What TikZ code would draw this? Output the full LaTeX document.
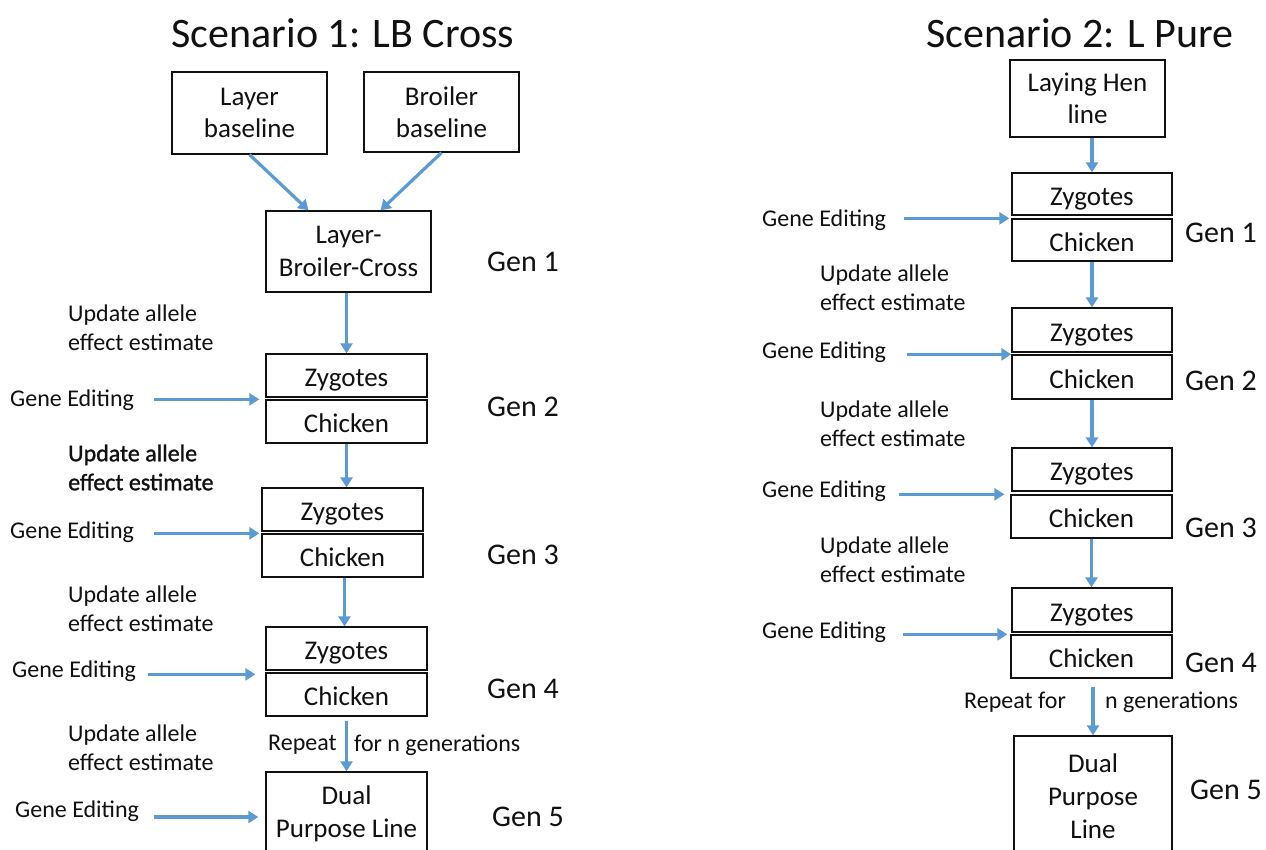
\documentclass[tikz,border=0pt]{standalone}
\usepackage{fontspec}
\setmainfont{Carlito}
\newfontfamily\heavyfont[FakeBold=1.2]{Carlito}
\usetikzlibrary{arrows.meta}
\definecolor{arrblue}{HTML}{5B9BD5}
\definecolor{ink}{HTML}{111111}
\tikzset{
  box/.style={draw=ink, line width=1.3pt, inner sep=0pt, align=center, text=ink,
    font=\fontsize{27}{32.5}\selectfont},
  cell/.style={box, minimum width=161pt, minimum height=43pt, text height=24pt, text depth=2pt},
  lbl/.style={inner sep=0pt, text=ink, font=\fontsize{24}{29}\selectfont, align=left},
  genlbl/.style={inner sep=0pt, anchor=west, text=ink, font=\fontsize{30}{36}\selectfont},
  ttl/.style={inner sep=0pt, text=ink, font=\fontsize{42}{50}\selectfont},
  arr/.style={draw=arrblue, line width=3.2pt, -{Triangle[length=10pt,width=12pt]}}
}
\begin{document}
\begin{tikzpicture}[x=1pt,y=-1pt]
\useasboundingbox (0,0) rectangle (1266,849);
\clip (0,0) rectangle (1266,849);
\fill[white] (0,0) rectangle (1266,849);

% ---------------- Scenario 1 ----------------
\node[ttl] (t1) at (343,33) {Scenario 1: LB Cross};
\node[box, minimum width=155pt, minimum height=82pt] (lay) at (249.5,113) {Layer\\baseline};
\node[box, minimum width=155pt, minimum height=80pt] (bro) at (441.5,112) {Broiler\\baseline};
\node[box, minimum width=165pt, minimum height=81pt] (lbc) at (348.5,251.5) {Layer-\\Broiler-Cross};
\node[cell] (z2) at (346.5,375.5) {Zygotes};
\node[cell] (c2) at (346.5,421.5) {Chicken};
\node[cell] (z3) at (342.5,509.5) {Zygotes};
\node[cell] (c3) at (342.5,555.5) {Chicken};
\node[cell] (z4) at (346.5,648.5) {Zygotes};
\node[cell] (c4) at (346.5,694.5) {Chicken};
\node[box, minimum width=161pt, minimum height=84pt] (d1) at (346.5,814) {Dual\\Purpose Line};

\node[genlbl] (g1) at (487,262) {Gen 1};
\node[genlbl] (g2) at (487,407) {Gen 2};
\node[genlbl] (g3) at (487,555) {Gen 3};
\node[genlbl] (g4) at (487,689) {Gen 4};
\node[genlbl] (g5) at (492,817) {Gen 5};

\node[lbl, anchor=west] (u1) at (68,327.5) {Update allele\\effect estimate};
\node[lbl, anchor=west, font=\heavyfont\fontsize{24}{29}\selectfont] (u2) at (68,467.5) {Update allele\\effect estimate};
\node[lbl, anchor=west] (u3) at (68,608.5) {Update allele\\effect estimate};
\node[lbl, anchor=west] (u4) at (68,747.5) {Update allele\\effect estimate};

\node[lbl, anchor=west] (e2) at (10,400) {Gene Editing};
\node[lbl, anchor=west] (e3) at (10,532) {Gene Editing};
\node[lbl, anchor=west] (e4) at (12,671) {Gene Editing};
\node[lbl, anchor=west] (e5) at (15,811) {Gene Editing};

\node[lbl, anchor=west] (r1a) at (268,745) {Repeat};
\node[lbl, anchor=west] (r1b) at (354,745) {for n generations};

\draw[arr] (lay.south) -- ([xshift=-40pt]lbc.north);
\draw[arr] (bro.south) -- ([xshift=32pt]lbc.north);
\draw[arr] (z2.north |- lbc.south) -- (z2.north);
\draw[arr] (c2.south) -- (c2.south |- z3.north);
\draw[arr] ([xshift=2pt]c3.south) -- ([xshift=2pt]c3.south |- z4.north);
\draw[arr, shorten <=4pt] (c4.south) -- (d1.north);

\draw[arr] ([xshift=20pt]e2.east |- c2.north west) -- ([xshift=-6pt]c2.north west);
\draw[arr] ([xshift=20pt]e3.east |- c3.north west) -- ([xshift=-2pt]c3.north west);
\draw[arr] ([xshift=12pt,yshift=-2pt]e4.east |- c4.north west) -- ([xshift=-10pt,yshift=-2pt]c4.north west);
\draw[arr] ([xshift=15pt,yshift=-3pt]e5.east |- d1.west) -- ([xshift=-7pt,yshift=-3pt]d1.west);

% ---------------- Scenario 2 ----------------
\node[ttl] (t2) at (1080,33) {Scenario 2: L Pure};
\node[box, minimum width=155pt, minimum height=77pt] (lhl) at (1087.5,98.5) {Laying Hen\\line};
\node[cell, minimum width=160pt, minimum height=42pt] (rz1) at (1092,194) {Zygotes};
\node[cell, minimum width=160pt, minimum height=42pt] (rc1) at (1092,240) {Chicken};
\node[cell, minimum width=160pt, minimum height=44pt] (rz2) at (1092,330) {Zygotes};
\node[cell, minimum width=160pt, minimum height=44pt] (rc2) at (1092,377) {Chicken};
\node[cell, minimum width=160pt, minimum height=43pt] (rz3) at (1092,469.5) {Zygotes};
\node[cell, minimum width=161pt, minimum height=43pt] (rc3) at (1091.5,516.5) {Chicken};
\node[cell, minimum width=160pt, minimum height=44pt] (rz4) at (1092,610) {Zygotes};
\node[cell, minimum width=161pt, minimum height=43pt] (rc4) at (1091.5,656.5) {Chicken};
\node[box, minimum width=158pt, minimum height=120pt, font=\fontsize{27}{33}\selectfont] (d2) at (1093,796) {Dual\\Purpose\\Line};

\node[genlbl] (rg1) at (1185,233) {Gen 1};
\node[genlbl] (rg2) at (1185,381) {Gen 2};
\node[genlbl] (rg3) at (1185,528) {Gen 3};
\node[genlbl] (rg4) at (1185,663) {Gen 4};
\node[genlbl] (rg5) at (1190,790) {Gen 5};

\node[lbl, anchor=west] (ru1) at (820,287.5) {Update allele\\effect estimate};
\node[lbl, anchor=west] (ru2) at (820,423.5) {Update allele\\effect estimate};
\node[lbl, anchor=west] (ru3) at (820,560) {Update allele\\effect estimate};

\node[lbl, anchor=west] (re1) at (762,220) {Gene Editing};
\node[lbl, anchor=west] (re2) at (762,352) {Gene Editing};
\node[lbl, anchor=west] (re3) at (762,491) {Gene Editing};
\node[lbl, anchor=west] (re4) at (762,632) {Gene Editing};

\node[lbl, anchor=west] (r2a) at (964,702) {Repeat for};
\node[lbl, anchor=west] (r2b) at (1105,702) {n generations};

\draw[arr] (rz1.north |- lhl.south) -- (rz1.north);
\draw[arr] (rc1.south) -- (rz2.north);
\draw[arr] (rc2.south) -- (rz3.north);
\draw[arr] (rc3.south) -- (rc3.south |- rz4.north);
\draw[arr, shorten <=8pt] (d2.north |- rc4.south) -- (d2.north);

\draw[arr] ([xshift=18pt]re1.east |- rc1.north west) -- ([xshift=-2pt]rc1.north west);
\draw[arr] ([xshift=21pt]re2.east |- rc2.north west) -- (rc2.north west);
\draw[arr] ([xshift=13pt]re3.east |- rc3.north west) -- ([xshift=-6pt]rc3.north west);
\draw[arr] ([xshift=17pt]re4.east |- rc4.north west) -- ([xshift=-3pt]rc4.north west);
\end{tikzpicture}
\end{document}
